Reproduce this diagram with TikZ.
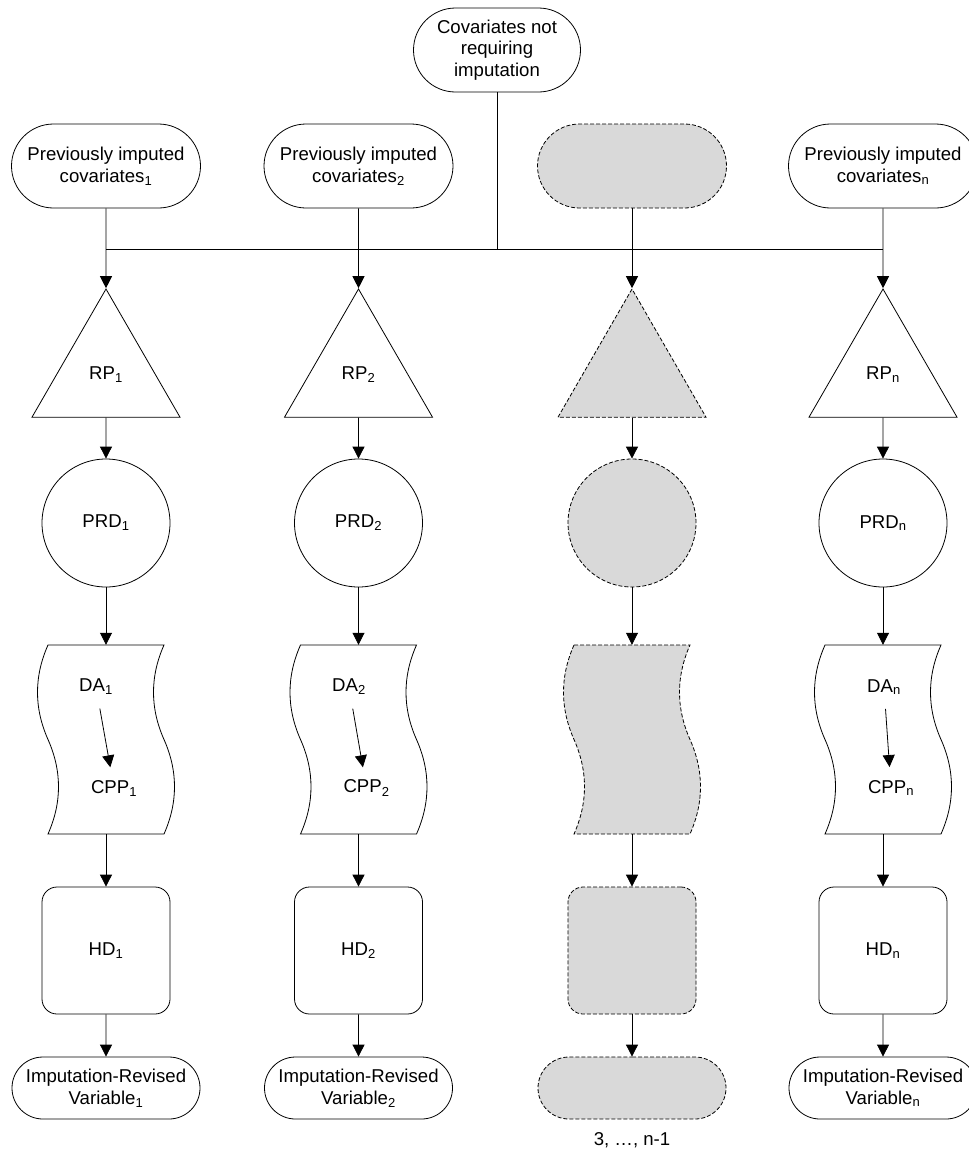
\documentclass[tikz,border=0pt]{standalone}
\usepackage{fontspec}
\setmainfont{Liberation Sans}
\usetikzlibrary{shapes.geometric,shapes.misc,arrows.meta}

\definecolor{ghostgray}{HTML}{D9D9D9}

\tikzset{
  every node/.style={font=\fontsize{18.6}{21.7}\selectfont},
  box/.style={draw, line width=0.8pt, align=center, inner sep=0pt},
  stadium/.style={box, rounded rectangle, minimum width=189pt, minimum height=84pt},
  endcap/.style={box, rounded rectangle, minimum width=188pt, minimum height=62pt},
  tri/.style={box, regular polygon, regular polygon sides=3, minimum size=171pt},
  disc/.style={box, circle, minimum size=128pt},
  hdbox/.style={box, rectangle, rounded corners=15pt, minimum width=128pt, minimum height=127pt},
  docbox/.style={inner sep=0pt, minimum width=116pt, minimum height=189pt},
  ghost/.style={dash pattern=on 4pt off 2pt, fill=ghostgray},
  arr/.style={-{Triangle[length=12pt,width=12pt]}, line width=0.8pt},
}

% wavy document outline, centred on x = #2
\newcommand{\docpath}[2][]{%
  \draw[line width=0.8pt,#1] (#2-58,645) .. controls (#2-72,676.5) and (#2-72,708) .. (#2-58,739.5)
    .. controls (#2-44,771) and (#2-44,802.5) .. (#2-58,834) -- (#2+58,834)
    .. controls (#2+72,802.5) and (#2+72,771) .. (#2+58,739.5)
    .. controls (#2+44,708) and (#2+44,676.5) .. (#2+58,645) -- cycle;}

\begin{document}
\begin{tikzpicture}[x=1pt, y=-1pt]
    \useasboundingbox (0,0) rectangle (969,1152);

    %shared covariates
    \node[stadium, minimum width=167pt] (cov) at (497,50) {Covariates not\\requiring\\imputation};
    \coordinate (busL) at (106,249);
    \coordinate (busR) at (883,249);
    \draw[line width=0.8pt] (busL) -- (busR);
    \draw[line width=0.8pt] (cov) -- (cov |- busL);

    %imputed columns
    \foreach \n/\x/\s/\d in {1/106/1/-10, 2/358.5/2/-9.5, 4/883/n/1} {
        \node[stadium] (top\n) at (\x,166) {Previously imputed\\covariates\textsubscript{\s}};
        \node[tri] (rp\n) at (\x,374.5) {RP\textsubscript{\s}};
        \node[disc] (prd\n) at (\x,523) {PRD\textsubscript{\s}};
        \node[docbox] (doc\n) at (\x,739.5) {};
        \docpath{\x}
        \node[inner sep=0pt] (da\n) at ({\x+(\d)},687) {DA\textsubscript{\s}};
        \node[inner sep=0pt] (cpp\n) at ({\x+8},788) {CPP\textsubscript{\s}};
        \draw[arr, shorten <=22pt, shorten >=21pt] (da\n.center) -- (cpp\n.center);
        \node[hdbox] (hd\n) at (\x,950.5) {HD\textsubscript{\s}};
        \node[endcap] (irv\n) at (\x,1088) {Imputation-Revised\\Variable\textsubscript{\s}};
    }

    %columns 3 ... n-1 (placeholder)
    \node[stadium, ghost] (top3) at (632,166) {};
    \node[tri, ghost] (rp3) at (632,374.5) {};
    \node[disc, ghost] (prd3) at (632,523) {};
    \node[docbox] (doc3) at (632,739.5) {};
    \docpath[ghost]{632}
    \node[hdbox, ghost] (hd3) at (632,950.5) {};
    \node[endcap, ghost] (irv3) at (632,1088) {};
    \node (lbl3) at (632,1140) {3, …, n-1};

    %connectors
    \foreach \n in {1,2,3,4} {
        \draw[arr] (top\n) -- (rp\n.north);
        \draw[arr] (rp\n) -- (prd\n);
        \draw[arr] (prd\n) -- (doc\n);
        \draw[arr] (doc\n) -- (hd\n);
        \draw[arr] (hd\n) -- (irv\n);
    }
\end{tikzpicture}
\end{document}
